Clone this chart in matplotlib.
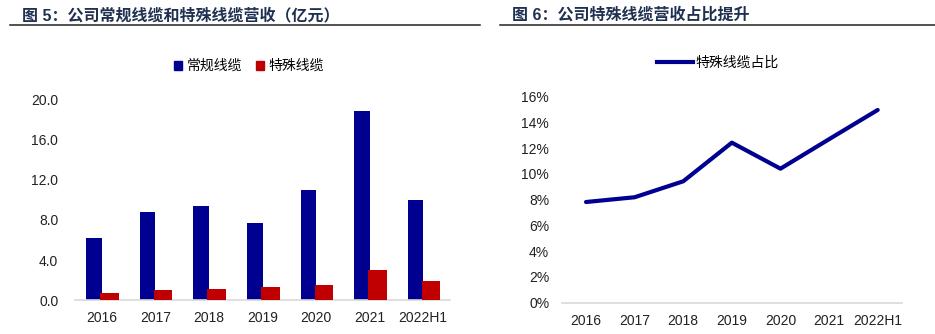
import numpy as np
import matplotlib
matplotlib.use('Agg')
import matplotlib.pyplot as plt
from matplotlib.lines import Line2D
from matplotlib.patches import Patch
from matplotlib.ticker import FuncFormatter

plt.rcParams['font.family'] = ['Liberation Sans', 'Noto Sans CJK SC', 'DejaVu Sans']

######data######
years = ['2016', '2017', '2018', '2019', '2020', '2021', '2022H1']
regular = [6.2, 8.75, 9.35, 7.7, 10.95, 18.8, 9.95]    # 常规线缆 (亿元)
special = [0.73, 1.0, 1.15, 1.3, 1.5, 3.0, 1.95]       # 特殊线缆 (亿元)
share = [7.82, 8.19, 9.43, 12.43, 10.41, 12.7, 14.97]  # 特殊线缆占比 (%)
yticks_left = [0, 4, 8, 12, 16, 20]
yticks_right = [0, 2, 4, 6, 8, 10, 12, 14, 16]

blue = '#000090'
red = '#C00000'
title_col = '#1F3050'
W, H = 935, 334

fig = plt.figure(figsize=(W / 100, H / 100), dpi=100)

def box(x0, y_top, x1, y_bot):
    return [x0 / W, 1 - y_bot / H, (x1 - x0) / W, (y_bot - y_top) / H]

######titles and rules######
fig.text(22 / W, 1 - 15 / H, '图 5：公司常规线缆和特殊线缆营收（亿元）', fontsize=11.5,
         fontweight='bold', color=title_col, va='center', ha='left')
fig.text(512 / W, 1 - 15 / H, '图 6：公司特殊线缆营收占比提升', fontsize=11.5,
         fontweight='bold', color=title_col, va='center', ha='left')
fig.add_artist(Line2D([10 / W, 480 / W], [1 - 25 / H] * 2, color='#222222', lw=1.1))
fig.add_artist(Line2D([500 / W, 935 / W], [1 - 25 / H] * 2, color='#222222', lw=1.1))

x = np.arange(len(years))

######left chart######
ax1 = fig.add_axes(box(75, 99, 450, 300.3))
ax1.bar(x - 0.145, regular, width=0.29, color=blue, label='常规线缆', zorder=2)
ax1.bar(x + 0.145, special, width=0.345, color=red, label='特殊线缆', zorder=3)
ax1.set_xlim(-0.5, len(years) - 0.5)
ax1.set_ylim(0, 20)
ax1.set_yticks(yticks_left)
ax1.yaxis.set_major_formatter(FuncFormatter(lambda v, p: f'{v:.1f}'))
ax1.set_xticks(x)
ax1.set_xticklabels(years)

######right chart######
ax2 = fig.add_axes(box(561.7, 96.7, 902, 302.7))
ax2.plot(x, share, color=blue, lw=3.0, solid_capstyle='round', label='特殊线缆占比')
ax2.set_xlim(-0.5, len(years) - 0.5)
ax2.set_ylim(0, 16)
ax2.set_yticks(yticks_right)
ax2.yaxis.set_major_formatter(FuncFormatter(lambda v, p: f'{v:.0f}%'))
ax2.set_xticks(x)
ax2.set_xticklabels(years)

for ax, ypad in ((ax1, 12), (ax2, 9)):
    for s in ('top', 'right', 'left'):
        ax.spines[s].set_visible(False)
    ax.spines['bottom'].set_color('#d9d9d9')
    ax.spines['bottom'].set_linewidth(1.2)
    ax.tick_params(axis='both', length=0, labelsize=10, colors='#222222')
    ax.tick_params(axis='x', pad=8)
    ax.tick_params(axis='y', pad=ypad)

######legends######
h1 = [Patch(color=blue, label='常规线缆'), Patch(color=red, label='特殊线缆')]
fig.legend(handles=h1, loc='center', bbox_to_anchor=(249 / W, 1 - 66 / H), ncol=2,
           frameon=False, fontsize=10, handlelength=0.6, handleheight=0.6,
           handletextpad=0.3, columnspacing=1.0)
fig.legend(handles=[Line2D([], [], color=blue, lw=3.0)], labels=['特殊线缆占比'],
           loc='center', bbox_to_anchor=(718 / W, 1 - 63 / H), frameon=False,
           fontsize=10, handlelength=2.6, handletextpad=0.2)

fig.savefig('out.png', dpi=100)
